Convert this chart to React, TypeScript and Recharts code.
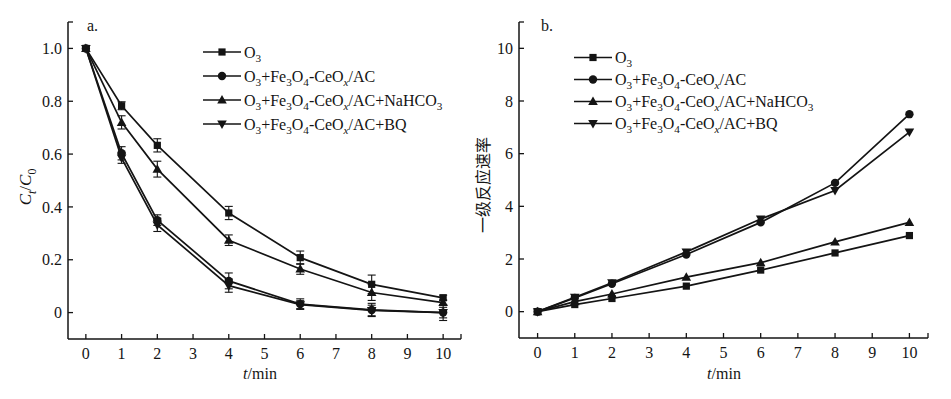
import React from 'react';
import { LineChart, Line, XAxis, YAxis, ErrorBar, Legend, Label } from 'recharts';

const INK = '#141414';
const SERIF = '"Liberation Serif", "Times New Roman", serif';
const CJK = '"Noto Sans CJK SC", "Noto Sans CJK JP", sans-serif';

// sampling times (min)
const TIMES = [0, 1, 2, 4, 6, 8, 10];

// a. Ct/C0
const O3_RATIO = [1.0, 0.783, 0.633, 0.377, 0.208, 0.107, 0.056];
const O3_RATIO_ERR = [0, 0.015, 0.025, 0.025, 0.025, 0.035, 0.01];
const CAT_RATIO = [1.0, 0.603, 0.35, 0.12, 0.032, 0.01, 0.0];
const CAT_RATIO_ERR = [0, 0.025, 0.02, 0.03, 0.02, 0.025, 0.03];
const NAHCO3_RATIO = [1.0, 0.72, 0.543, 0.274, 0.165, 0.076, 0.038];
const NAHCO3_RATIO_ERR = [0, 0.025, 0.03, 0.02, 0.02, 0.03, 0.01];
const BQ_RATIO = [1.0, 0.585, 0.332, 0.102, 0.03, 0.008, 0.0];
const BQ_RATIO_ERR = [0, 0.02, 0.025, 0.025, 0.015, 0.02, 0.02];

// b. first-order rate
const O3_RATE = [0, 0.27, 0.5, 0.97, 1.58, 2.23, 2.89];
const CAT_RATE = [0, 0.52, 1.06, 2.17, 3.39, 4.89, 7.5];
const NAHCO3_RATE = [0, 0.38, 0.67, 1.31, 1.86, 2.65, 3.39];
const BQ_RATE = [0, 0.55, 1.1, 2.27, 3.52, 4.6, 6.82];

const X_TICKS = [0, 1, 2, 3, 4, 5, 6, 7, 8, 9, 10, 10.5];
const RATIO_TICKS = [0, 0.2, 0.4, 0.6, 0.8, 1.0, 1.1];
const RATE_TICKS = [0, 2, 4, 6, 8, 10, 11];

type Part = [string, 'n' | 'i' | 's' | 'si'];
type Shape = 'square' | 'circle' | 'up' | 'down';

const CAT_PARTS: Part[] = [
  ['O', 'n'], ['3', 's'], ['+Fe', 'n'], ['3', 's'], ['O', 'n'], ['4', 's'], ['-CeO', 'n'], ['x', 'si'],
];

const SERIES: { key: string; shape: Shape; parts: Part[] }[] = [
  { key: 'o3', shape: 'square', parts: [['O', 'n'], ['3', 's']] },
  { key: 'cat', shape: 'circle', parts: [...CAT_PARTS, ['/AC', 'n']] },
  { key: 'nahco3', shape: 'up', parts: [...CAT_PARTS, ['/AC+NaHCO', 'n'], ['3', 's']] },
  { key: 'bq', shape: 'down', parts: [...CAT_PARTS, ['/AC+BQ', 'n']] },
];

const ratioData = TIMES.map((t, i) => ({
  t,
  o3: O3_RATIO[i], o3Err: O3_RATIO_ERR[i],
  cat: CAT_RATIO[i], catErr: CAT_RATIO_ERR[i],
  nahco3: NAHCO3_RATIO[i], nahco3Err: NAHCO3_RATIO_ERR[i],
  bq: BQ_RATIO[i], bqErr: BQ_RATIO_ERR[i],
}));

const rateData = TIMES.map((t, i) => ({
  t, o3: O3_RATE[i], cat: CAT_RATE[i], nahco3: NAHCO3_RATE[i], bq: BQ_RATE[i],
}));

function Marker({ cx, cy, shape }: { cx?: number; cy?: number; shape: Shape }) {
  if (cx == null || cy == null) return null;
  if (shape === 'square') return <rect x={cx - 3.6} y={cy - 3.6} width={7.2} height={7.2} fill={INK} />;
  if (shape === 'circle') return <circle cx={cx} cy={cy} r={4.2} fill={INK} />;
  if (shape === 'up') {
    return <polygon points={`${cx},${cy - 5} ${cx + 4.8},${cy + 3.5} ${cx - 4.8},${cy + 3.5}`} fill={INK} />;
  }
  return <polygon points={`${cx},${cy + 5} ${cx + 4.8},${cy - 3.5} ${cx - 4.8},${cy - 3.5}`} fill={INK} />;
}

function Formula({ parts, size }: { parts: Part[]; size: number }) {
  let shift = 0;
  return (
    <>
      {parts.map(([s, k], i) => {
        const sub = k === 's' || k === 'si';
        const target = sub ? size * 0.28 : 0;
        const dy = target - shift;
        shift = target;
        return (
          <tspan key={i} dy={dy} fontSize={sub ? size * 0.7 : size}
            fontStyle={k === 'i' || k === 'si' ? 'italic' : 'normal'}>
            {s}
          </tspan>
        );
      })}
    </>
  );
}

function legendContent(first: number, gap: number) {
  return () => (
    <svg width={300} height={110} style={{ display: 'block' }}>
      {SERIES.map((s, i) => {
        const y = first + i * gap;
        return (
          <g key={s.key}>
            <line x1={3} x2={41} y1={y} y2={y} stroke={INK} strokeWidth={1.6} />
            <Marker cx={22} cy={y} shape={s.shape} />
            <text x={44} y={y + 5.5} fontFamily={SERIF} fontSize={16} fill={INK}>
              <Formula parts={s.parts} size={16} />
            </text>
          </g>
        );
      })}
    </svg>
  );
}

const axisProps = {
  axisLine: { stroke: INK, strokeWidth: 1.5 },
  tickLine: { stroke: INK, strokeWidth: 1.3 },
  tick: { fill: INK, fontSize: 16, fontFamily: SERIF },
  tickSize: -5,
  interval: 0 as const,
};

function series(withErr: boolean) {
  return SERIES.map((s) => (
    <Line
      key={s.key}
      dataKey={s.key}
      type="linear"
      stroke={INK}
      strokeWidth={1.7}
      isAnimationActive={false}
      dot={(p: any) => <Marker key={`${s.key}-${p.index}`} cx={p.cx} cy={p.cy} shape={s.shape} />}
      activeDot={false}
    >
      {withErr && (
        <ErrorBar dataKey={`${s.key}Err`} width={4} stroke={INK} strokeWidth={1.1} isAnimationActive={false} />
      )}
    </Line>
  ));
}

function tLabel(cx: number) {
  return () => (
    <text x={cx} y={379} textAnchor="middle" fontFamily={SERIF} fontSize={16} fill={INK}>
      <tspan fontStyle="italic">t</tspan>/min
    </text>
  );
}

export default function App() {
  return (
    <div style={{ position: 'absolute', left: 0, top: 0, width: 951, height: 399, background: '#fff' }}>
      <div style={{ position: 'absolute', left: 0, top: 0 }}>
        <LineChart width={470} height={399} data={ratioData} margin={{ top: 22, right: 9, bottom: 30, left: 28 }}>
          <XAxis type="number" dataKey="t" domain={[-0.5, 10.5]} ticks={X_TICKS} height={30}
            tickFormatter={(v: number) => (v === 10.5 ? '' : String(v))} tickMargin={14} {...axisProps}>
            <Label content={tLabel(260)} />
          </XAxis>
          <YAxis type="number" domain={[-0.1, 1.1]} ticks={RATIO_TICKS} width={40}
            tickFormatter={(v: number) => (v === 1.1 ? '' : v === 0 ? '0' : v.toFixed(1))} tickMargin={11} {...axisProps}>
            <Label content={() => (
              <text transform="translate(31 187) rotate(-90)" textAnchor="middle" fontFamily={SERIF} fontSize={17} fill={INK}>
                <Formula parts={[['C', 'i'], ['t', 'si'], ['/', 'n'], ['C', 'i'], ['0', 's']]} size={17} />
              </text>
            )} />
            <Label content={() => (
              <text x={87} y={31} fontFamily={SERIF} fontSize={16} fill={INK}>a.</text>
            )} />
          </YAxis>
          <Legend layout="vertical" align="center" verticalAlign="middle"
            wrapperStyle={{ left: 200, top: 36, width: 300, height: 110 }} content={legendContent(16, 24)} />
          {series(true)}
        </LineChart>
      </div>
      <div style={{ position: 'absolute', left: 470, top: 0 }}>
        <LineChart width={481} height={399} data={rateData} margin={{ top: 22, right: 23, bottom: 31, left: 9 }}>
          <XAxis type="number" dataKey="t" domain={[-0.5, 10.5]} ticks={X_TICKS} height={30}
            tickFormatter={(v: number) => (v === 10.5 ? '' : String(v))} tickMargin={14} {...axisProps}>
            <Label content={tLabel(254)} />
          </XAxis>
          <YAxis type="number" domain={[-1, 11]} ticks={RATE_TICKS} width={40}
            tickFormatter={(v: number) => (v === 11 ? '' : String(v))} tickMargin={11} {...axisProps}>
            <Label content={() => (
              <text transform="translate(19 185) rotate(-90)" textAnchor="middle" fontFamily={CJK} fontSize={16} fill={INK}>
                一级反应速率
              </text>
            )} />
            <Label content={() => (
              <text x={71} y={31} fontFamily={SERIF} fontSize={16} fill={INK}>b.</text>
            )} />
          </YAxis>
          <Legend layout="vertical" align="center" verticalAlign="middle"
            wrapperStyle={{ left: 101, top: 36, width: 300, height: 110 }} content={legendContent(21.5, 22)} />
          {series(false)}
        </LineChart>
      </div>
    </div>
  );
}
